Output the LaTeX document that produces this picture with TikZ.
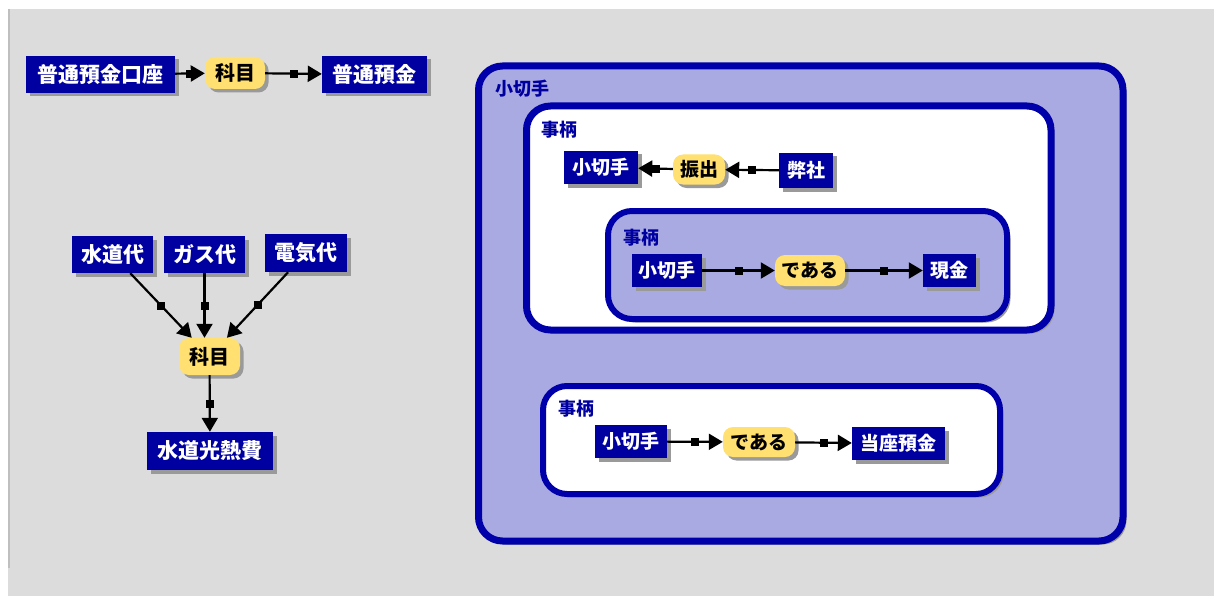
\documentclass[tikz,border=0pt]{standalone}
\usepackage{fontspec}
\setmainfont{Noto Sans CJK JP}
\usetikzlibrary{arrows.meta,shadows}
\definecolor{bg}{HTML}{DCDCDC}
\definecolor{navy}{HTML}{0000A0}
\definecolor{bord}{HTML}{0000AA}
\definecolor{lav}{HTML}{AAAAE2}
\definecolor{yel}{HTML}{FFE070}
\definecolor{shd}{HTML}{9A9A9A}
\tikzset{
 sh/.style={drop shadow={shadow xshift=3.5pt,shadow yshift=-3.5pt,fill=shd,opacity=1}},
 cbox/.style={sh,fill=navy,text=white,font=\bfseries\fontsize{21}{21}\selectfont,inner sep=0pt,minimum height=37pt},
 rbox/.style={cbox,font=\bfseries\fontsize{19}{19}\selectfont,minimum height=33pt},
 rel/.style={sh,fill=yel,rounded corners=10pt,text=black,font=\bfseries\fontsize{20}{20}\selectfont,inner sep=0pt,minimum height=32pt},
 rrel/.style={rel,font=\bfseries\fontsize{19}{19}\selectfont,minimum height=30pt},
 cont/.style={sh,draw=bord,line width=7pt,rounded corners=24pt},
 lbl/.style={text=navy,font=\bfseries\fontsize{18}{18}\selectfont,inner sep=0pt},
 conn/.style={line width=2.2pt,-{Triangle[length=14pt,width=16pt]}},
 sq/.style={fill=black,minimum size=8pt,inner sep=0pt}
}
\begin{document}
\begin{tikzpicture}[x=1pt,y=-1pt]
\useasboundingbox (0,0) rectangle (1214,596);
\fill[white] (0,0) rectangle (1214,596);
\fill[bg] (8,9) rectangle (1214,596);
\fill[black!25] (8,9) rectangle (10,568);
% containers
\draw[cont,fill=lav] (478.5,66) rectangle (1123,541);
\draw[cont,fill=white] (526.5,106) rectangle (1051,330);
\draw[cont,line width=6pt,fill=lav] (608,211) rectangle (1007,319);
\draw[cont,line width=6pt,fill=white] (543,386) rectangle (1000,494);
\node[lbl] (l0) at (522,89) {小切手};
\node[lbl] (l1) at (559,130) {事柄};
\node[lbl] (l2) at (641,238) {事柄};
\node[lbl] (l3) at (576,409) {事柄};
% top-left flow
\node[cbox,minimum width=149pt] (a1) at (100.5,74.5) {普通預金口座};
\node[rel,minimum width=60pt] (k1) at (235,73) {科目};
\node[cbox,minimum width=105pt] (a2) at (374.5,74.5) {普通預金};
\draw[conn] (a1) -- node[sq]{} (k1);
\draw[conn] (k1) -- node[sq]{} (a2);
% left group
\node[cbox,minimum width=81pt] (s1) at (112.5,254.5) {水道代};
\node[cbox,minimum width=81pt] (s2) at (204.5,254.5) {ガス代};
\node[cbox,minimum width=82pt,minimum height=38pt] (s3) at (306,253) {電気代};
\node[rel,minimum width=61pt,minimum height=37pt] (k2) at (209.5,356.5) {科目};
\node[cbox,minimum width=126pt,minimum height=38pt] (s4) at (210,451) {水道光熱費};
\draw[conn] (s1) -- node[sq]{} (k2);
\draw[conn] (s2) -- node[sq]{} (s2 |- k2.north);
\draw[conn] (s3) -- node[sq]{} (k2);
\draw[conn] (k2) -- node[sq]{} (s4);
% right panel
\node[rbox,minimum width=74pt] (b1) at (601,167.5) {小切手};
\node[rrel,minimum width=52pt] (f) at (699,169.5) {振出};
\node[rbox,minimum width=54pt,minimum height=35pt] (h) at (806,170.5) {弊社};
\draw[conn] (h) -- node[sq]{} (f);
\draw[conn] (f) -- node[sq]{} (b1);
\node[rbox,minimum width=70pt] (b2) at (667,270.5) {小切手};
\node[rrel,minimum width=70pt,minimum height=31pt] (d1) at (810,270.5) {である};
\node[rbox,minimum width=53pt] (g) at (949.5,270.5) {現金};
\draw[conn] (b2) -- node[sq]{} (d1);
\draw[conn] (d1) -- node[sq]{} (g);
\node[rbox,minimum width=72pt] (b3) at (631,441.5) {小切手};
\node[rrel,minimum width=72pt] (d2) at (759,442) {である};
\node[rbox,minimum width=93pt] (t) at (898.5,443.5) {当座預金};
\draw[conn] (b3) -- node[sq]{} (d2);
\draw[conn] (d2) -- node[sq]{} (t);
\end{tikzpicture}
\end{document}
